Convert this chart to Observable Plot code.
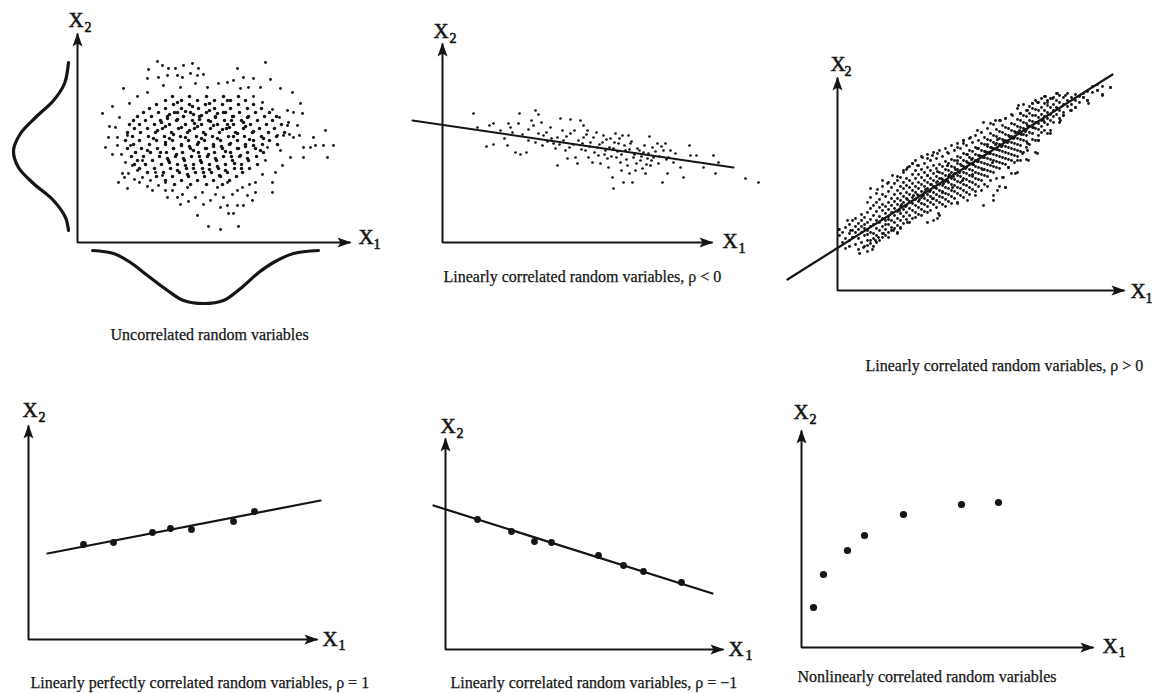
<!DOCTYPE html>
<html><head><meta charset="utf-8">
<script src="https://cdn.jsdelivr.net/npm/d3@7"></script>
<script src="https://cdn.jsdelivr.net/npm/@observablehq/plot@0.6"></script>
<style>
html,body{margin:0;padding:0;background:#fff;}
#fig{position:relative;width:1152px;height:693px;overflow:hidden;background:#fff;}
#fig svg{position:absolute;overflow:visible;background:transparent;}
</style></head><body><div id="fig"></div>
<script>
// ---------- DATA (arbitrary units, origin at each panel's axis corner) ----------
const captions = [
  "Uncorrelated random variables",
  "Linearly correlated random variables, \u03c1 < 0",
  "Linearly correlated random variables, \u03c1 > 0",
  "Linearly perfectly correlated random variables, \u03c1 = 1",
  "Linearly correlated random variables, \u03c1 = \u22121",
  "Nonlinearly correlated random variables"
];

// Panel 1: marginal density curves
const leftCurve1 = [[-9,180],[-13,159],[-24,142],[-42,125],[-57,109],[-64,92],[-59,75],[-44,59],[-24,42],[-12,25],[-9,12]];
const bottomCurve1 = [[15,-8],[36,-11],[53,-20],[70,-33],[90,-48],[106,-58],[126,-61],[146,-58],[163,-46],[180,-31],[196,-20],[216,-11],[241,-8]];
// Panel 1: scattered outer points
const cloud1Outer = [[80,181],[85,177],[71,173],[91,174],[98,174],[106,177],[115,179],[121,174],[160,174],[188,180],
[70,164],[81,165],[90,167],[100,167],[105,165],[113,169],[120,167],[126,168],[166,165],[176,164],[193,163],
[46,154],[141,159],[150,160],[156,162],[183,155],[171,155],[163,154],[203,154],[86,157],[103,155],[118,159],[130,155],
[215,150],[223,139],[225,129],[216,130],[210,132],[248,112],[236,105],[238,97],[246,97],[256,97],[233,95],[226,95],[250,85],[226,85],[213,85],[205,77],[195,60],[195,50],[178,60],[178,50],[170,47],[160,37],[166,37],[150,37],[143,35],[151,29],[156,29],[120,27],[131,16],[143,13],[161,16],[103,38],[111,41],[118,45],[90,45],[100,45],[133,42],[146,45],[50,54],[41,60],[45,69],[51,69],[55,77],[60,72],[65,65],[73,62],[81,57],[75,52],[85,67],[32,116],[31,105],[40,105],[40,97],[50,107],[53,97],[58,90],[65,82],[220,117],[210,117],[200,107],[190,95],[188,82],[206,107],[203,92],[216,105],[212,108],[222,107],[35,136],[25,129],[52,139],
[60,146],[70,150],[176,146],[185,140],[195,133],[202,125],[211,120],[42,125],[38,115],[44,88],[48,80],[198,70],[185,68],[172,58],[160,52],[88,52],[110,55],[125,50],[140,55],[150,60],[35,88],[28,95],
[62,60],[70,56],[57,63],[47,65],[78,70],[68,78],[88,60],[95,52],[105,48],[126,38],[138,48],[155,48],[165,55],[175,42]];
// Panel 1: dense core, rows of [x2, [x1 values]]
const cloud1Rows = [
 [146,[95,112,129,146,161]],
 [142,[88,104,120,137,153,168]],
 [138,[79,96,112,128,145,161,176]],
 [134,[72,88,104,121,137,153,170,184]],
 [130,[66,81,97,113,129,146,162,178,192]],
 [126,[60,74,90,106,122,138,155,171,187,199]],
 [122,[56,68,83,99,115,131,147,164,180,195]],
 [118,[52,62,77,92,108,124,140,156,173,189,204]],
 [114,[57,70,85,101,117,133,149,166,182,197]],
 [110,[50,63,78,94,110,126,142,158,175,191,207]],
 [106,[55,71,87,103,119,135,151,167,184,199]],
 [102,[48,62,79,95,111,127,143,160,176,192]],
 [98,[56,72,88,104,120,136,152,168,185,200]],
 [94,[50,64,80,96,113,129,145,161,178]],
 [90,[58,73,89,105,121,137,153,170,186]],
 [86,[54,66,82,98,114,130,146,162,179]],
 [82,[60,75,91,107,123,139,155,171]],
 [78,[57,68,84,100,116,132,148,164,180]],
 [74,[62,77,93,109,125,141,157,172]],
 [70,[70,86,102,118,134,150,165]],
 [66,[79,95,111,127,143,159]],
 [62,[88,104,120,136,152]],
 [58,[97,113,129,145]]
];
// Panel 1: extra points in the darkest centre of the cloud
const cloud1Inner = [[92,128],[108,131],[124,127],[140,129],[156,126],[84,120],[100,123],[117,119],[133,121],[150,118],[166,120],[80,112],[96,108],[112,112],[128,108],[145,113],[160,109],[176,111],[88,100],[104,97],[121,100],[136,96],[153,99],[168,96],[83,90],[99,88],[116,92],[131,88],[148,91],[163,87],[92,80],[108,77],[124,80],[140,76],[157,79],[76,104],[186,104],[70,92],[183,92],[115,136],[132,139],[100,140],[150,142],[110,68],[126,70],[142,67],
[100,130],[116,128],[132,132],[148,130],[90,124],[106,126],[122,123],[138,125],[154,122],[170,125],[88,116],[104,115],[120,116],[136,117],[152,115],[168,116],[92,104],[108,105],[124,104],[140,104],[156,106],[172,103],[96,94],[112,96],[128,94],[144,96],[160,94],[176,97],[90,84],[106,84],[122,86],[138,84],[154,86],[170,84],[100,72],[116,74],[132,73],[148,72],[164,74]];

// Panel 2: negative linear correlation
const fit2 = [[-30,122],[291,75]];
const cloud2 = [[31,129],[35,115],[47,117],[51,119],[44,96],[51,98],[65,97],[66,119],[68,115],[76,119],[77,129],[73,90],[78,88],[84,90],[86,113],[89,122],[93,132],[96,128],[91,117],[93,100],[100,97],[101,107],[105,101],[108,115],[111,99],[113,94],[115,105],[115,77],[118,124],[120,112],[121,102],[123,92],[125,84],[128,123],[128,109],[131,98],[133,85],[135,79],[138,122],[140,99],[141,117],[141,105],[143,92],[145,112],[146,85],[148,100],[150,80],[151,105],[155,95],[156,87],[158,79],[160,100],[161,107],[163,92],[165,84],[166,75],[168,104],[170,65],[171,54],[171,94],[173,109],[174,85],[176,99],[178,80],[179,72],[180,107],[181,60],[183,92],[185,77],[186,107],[187,69],[188,99],[190,60],[191,85],[193,72],[195,94],[198,82],[200,74],[201,90],[203,69],[205,84],[207,106],[208,77],[210,95],[211,85],[215,99],[216,79],[220,60],[221,92],[223,99],[225,69],[226,85],[231,80],[233,89],[238,75],[241,65],[247,97],[248,87],[254,87],[261,75],[271,87],[273,69],[276,80],[303,64],[316,60],
[104,110],[109,104],[117,98],[124,106],[127,95],[132,112],[136,102],[139,93],[144,108],[147,96],[152,90],[154,110],[157,98],[162,88],[164,103],[167,95],[169,86],[172,100],[175,91],[177,104],[179,88],[182,97],[184,83],[187,93],[189,101],[192,88],[194,79],[197,92],[199,86],[202,97],[204,78],[206,89],[209,82],[213,91],[217,86],[219,96],[224,83],[228,92],[80,108],[86,102],[96,109],[70,110],[58,112],[62,104],[99,120]];

// Panel 3: positive linear correlation
const fit3 = [[-50,11],[275,216]];
const cloud3Cols = [
 [2,[55,61]],[5,[48,58]],[8,[42,52,63]],
 [12,[44,50,57,66]],[15,[53,60,70]],
 [18,[46,58,64,72]],[21,[41,52,61,67]],
 [24,[48,58,64,70,76]],[27,[44,55,62,66,73]],
 [30,[39,50,56,60,68,78,88]],[33,[47,58,64,71,82,93]],
 [36,[44,52,57,66,75,85]],[39,[48,55,62,70,79,88,97]],
 [42,[50,60,68,74,83,91]],[45,[53,57,64,72,80,86,96,104]],
 [48,[55,61,66,70,77,84,94]],[51,[58,66,71,74,81,88,99,108]],
 [54,[60,63,70,78,85,92,103]],[57,[62,68,75,82,89,96,107]],
 [60,[58,65,72,79,86,92,100,110]],[63,[62,70,77,84,90,97,104,113]],
 [66,[67,74,81,88,94,102,108,118]],[69,[71,78,85,92,98,105,112,121]],
 [72,[68,75,82,89,96,103,110,124]],[75,[72,80,87,93,100,107,116,127]],
 [78,[73,78,85,91,98,104,112,120,130]],[81,[76,83,89,95,102,108,116,125]],
 [84,[75,81,87,93,99,106,113,121,134]],[87,[79,86,92,98,104,110,118,127]],
 [90,[78,84,90,96,102,108,115,123,136]],[93,[80,88,94,100,106,112,120,130]],
 [96,[70,86,92,98,104,110,117,125,138]],[99,[83,90,96,102,108,114,122,132]],
 [102,[75,88,94,100,106,112,118,126,140]],[105,[86,93,99,105,111,117,124,134]],
 [108,[84,91,97,103,109,115,121,129,142]],[111,[89,96,102,108,114,120,127,137]],
 [114,[87,94,100,106,112,118,124,131,145]],[117,[92,99,105,111,117,123,130,140]],
 [120,[88,97,103,109,115,121,127,134,147]],[123,[95,102,108,114,120,126,133,142]],
 [126,[93,100,106,112,118,124,130,137,150]],[129,[98,105,111,117,123,129,136,145]],
 [132,[96,103,109,115,121,127,133,140,152]],[135,[101,108,114,120,126,132,139,148]],
 [138,[99,106,112,118,124,130,136,143,155]],[141,[104,111,117,123,129,135,142,150]],
 [144,[100,110,116,122,128,134,140,147,158]],[147,[106,115,121,127,133,139,146,153]],
 [150,[104,114,120,126,132,138,144,151,162]],[153,[110,119,125,131,137,143,150,157]],
 [156,[95,118,124,130,136,142,148,155,166]],[159,[112,123,129,135,141,147,154,161]],
 [162,[104,122,128,134,140,146,152,159,170]],[165,[113,127,133,139,145,151,158,165]],
 [168,[103,126,132,138,144,150,156,163,172]],[171,[123,131,137,143,149,155,162]],
 [174,[117,130,136,142,148,154,160,167,176]],[177,[128,135,141,147,153,159,166]],
 [180,[118,134,140,146,152,158,164,171,182]],[183,[130,139,145,151,157,163,170,177]],
 [186,[138,150,156,162,168,175,186]],[189,[131,143,149,155,161,167,174,180]],
 [192,[146,158,164,170,177,184]],[195,[151,157,163,169,175,182,187]],
 [198,[138,150,162,168,175,181,190]],[201,[150,155,161,167,173,180,188]],
 [204,[158,164,170,176,183,192]],[207,[160,168,174,180,187,194]],
 [210,[157,166,172,178,185,190]],[213,[160,170,176,183,192]],
 [216,[168,174,180,186,193]],[219,[176,183,190,197]],
 [222,[168,172,180,188,195]],[226,[175,178,186,193]],
 [230,[184,190,197]],[234,[180,186,193]],
 [238,[183,190,196]],[242,[188,194]],
 [246,[193,197]],[250,[190,199]],
 [255,[198,204]],[260,[200,206]],[265,[196,204]],[273,[203]]
];
const cloud3Outer = [[273,203],[260,200],[265,195],[250,190],[251,187],[246,193],[238,183],[233,180],[228,195],[220,197],[215,192],[208,194],[210,188],[200,188],[195,187],[190,180],[181,185],[183,177],[175,175],[168,172],[163,170],[158,170],[153,167],[146,168],[140,160],[133,153],[126,150],
[213,157],[201,150],[190,147],[190,140],[196,163],[206,170],[223,170],[226,175],[200,137],[191,130],[185,137],[180,130],[178,117],[171,123],[166,113],[168,103],[160,100],[156,90],[146,85],[138,95],[130,90],[120,87],
[1,61],[10,70],[13,60],[16,53],[22,37],[26,43],[30,45],[33,50],[35,41],[38,50],[41,53],[46,57],[51,53],[56,60],[60,57],[63,63],[70,68],[90,68],[100,72],[101,77],
[33,102],[40,101],[45,110],[50,107],[55,115],[60,114],[66,120],[70,123],[75,127],[80,125],[85,133],[90,132],[95,135],[100,137],[110,138],[120,143],[126,147]];
// Panel 3: extra points packed close to the regression line (darkest band)
const cloud3Core = [[62,80],[64,86],[68,84],[70,91],[74,88],[76,95],[80,96],[82,91],[86,95],[88,101],[92,99],[94,106],[98,103],[100,109],[104,112],[106,107],[110,110],[112,116],[116,114],[118,121],[122,118],[124,125],[128,122],[130,128],[134,131],[136,126],[140,129],[142,135],[146,133],[148,139],[152,137],[154,143],[158,146],[160,141],[164,144],[166,150],[170,148],[172,154],[176,152],[178,158],[182,160],[184,156],[188,159],[190,165],
[90,115],[100,119],[110,125],[120,130],[130,136],[140,142],[150,146],[160,151],[95,92],[105,98],[115,103],[125,110],[135,116],[145,121],[155,128]];

// Panel 4: perfect positive correlation
const fit4 = [[19,86],[292,139]];
const points4 = [[55,95],[85,97],[124,107],[142,111],[163,110],[205,118],[226,128]];
// Panel 5: perfect negative correlation
const fit5 = [[-12,144],[267,56]];
const points5 = [[32,130],[66,118],[89,108],[106,107],[153,94],[178,84],[198,78],[236,67]];
// Panel 6: nonlinear correlation
const points6 = [[12,40],[22,73],[46,97],[63,112],[102,133],[160,143],[197,145]];

// ---------- DRAWING ----------
const INK = "#151515";
const FONT = "'Liberation Serif','Times New Roman',Times,serif";
const fig = document.getElementById("fig");
const arrowHead = {draw(ctx){ctx.moveTo(0,-1);ctx.lineTo(5,13);ctx.lineTo(0,10);ctx.lineTo(-5,13);ctx.closePath();}};
const flatRows = rows => rows.flatMap(([y, xs]) => xs.map(x => [x, y]));
const flatCols = cols => cols.flatMap(([x, ys]) => ys.map(y => [x, y]));

function axisMarks(tipX, tipY) {
  return [
    Plot.line([[0, tipY], [0, 0], [tipX, 0]], {stroke: INK, strokeWidth: 2, strokeLinejoin: "miter", strokeLinecap: "butt"}),
    Plot.dot([[0, tipY]], {symbol: arrowHead, fill: INK, stroke: "none", r: 5}),
    Plot.dot([[tipX, 0]], {symbol: arrowHead, fill: INK, stroke: "none", r: 5, rotate: 90})
  ];
}
function labelMarks(L) {
  const common = {text: d => d, fill: INK, stroke: INK, strokeWidth: 0.6, fontFamily: FONT, textAnchor: "start", lineAnchor: "bottom"};
  return [
    Plot.text(["X"], {...common, x: L.x1[0], y: L.x1[1], fontSize: 21}),
    Plot.text(["1"], {...common, x: L.x1[2], y: L.x1[3], fontSize: 14}),
    Plot.text(["X"], {...common, x: L.x2[0], y: L.x2[1], fontSize: 21}),
    Plot.text(["2"], {...common, x: L.x2[2], y: L.x2[3], fontSize: 14})
  ];
}
function captionMark(text, pos) {
  return Plot.text([text], {x: pos[0], y: pos[1], text: d => d, fill: INK, stroke: INK, strokeWidth: 0.25, fontFamily: FONT, fontSize: 16, textAnchor: "start", lineAnchor: "bottom"});
}
function panel(p, marks) {
  const chart = Plot.plot({
    width: p.w, height: p.h, margin: 0,
    style: {background: "transparent", overflow: "visible"},
    x: {domain: [p.left - p.ox, p.left + p.w - p.ox], range: [0, p.w], axis: null},
    y: {domain: [p.oy - (p.top + p.h), p.oy - p.top], range: [p.h, 0], axis: null},
    marks: [...marks, ...axisMarks(p.tipX, p.tipY), ...labelMarks(p.labels), captionMark(p.caption, p.capPos)]
  });
  chart.style.left = p.left + "px";
  chart.style.top = p.top + "px";
  fig.append(chart);
}

// Panel 1
panel({left: 0, top: 0, w: 390, h: 350, ox: 77, oy: 242, tipX: 273, tipY: 209,
  labels: {x1: [281, -1, 296, -6], x2: [-9, 216, 7, 211]}, caption: captions[0], capPos: [33, -97]}, [
  Plot.line(leftCurve1, {curve: "catmull-rom", stroke: INK, strokeWidth: 3.2}),
  Plot.line(bottomCurve1, {curve: "catmull-rom", stroke: INK, strokeWidth: 3.2}),
  Plot.dot(cloud1Outer, {r: 1.45, fill: INK, stroke: "none"}),
  Plot.dot(flatRows(cloud1Rows), {r: 1.75, fill: INK, stroke: "none"}),
  Plot.dot(cloud1Inner, {r: 1.75, fill: INK, stroke: "none"})
]);
// Panel 2
panel({left: 390, top: 0, w: 390, h: 300, ox: 442, oy: 242, tipX: 270, tipY: 199,
  labels: {x1: [280, -5, 296, -10], x2: [-9, 205, 7, 200]}, caption: captions[1], capPos: [1, -39]}, [
  Plot.dot(cloud2, {r: 1.35, fill: INK, stroke: "none"}),
  Plot.line(fit2, {stroke: INK, strokeWidth: 2})
]);
// Panel 3
panel({left: 780, top: 0, w: 372, h: 380, ox: 837, oy: 290, tipX: 287, tipY: 213,
  labels: {x1: [293, -7, 308, -12], x2: [-7, 220, 7, 215]}, caption: captions[2], capPos: [28, -80]}, [
  Plot.dot(flatCols(cloud3Cols), {r: 1.4, fill: INK, stroke: "none"}),
  Plot.dot(cloud3Outer, {r: 1.4, fill: INK, stroke: "none"}),
  Plot.dot(cloud3Core, {r: 1.5, fill: INK, stroke: "none"}),
  Plot.line(fit3, {stroke: INK, strokeWidth: 2.2})
]);
// Panel 4
panel({left: 0, top: 380, w: 420, h: 313, ox: 28, oy: 639, tipX: 289, tipY: 214,
  labels: {x1: [294, -6, 310, -10], x2: [-6, 223, 10, 218]}, caption: captions[3], capPos: [2, -48]}, [
  Plot.line(fit4, {stroke: INK, strokeWidth: 2.2}),
  Plot.dot(points4, {r: 3.4, fill: INK, stroke: "none"})
]);
// Panel 5
panel({left: 420, top: 380, w: 360, h: 313, ox: 445, oy: 649, tipX: 278, tipY: 211,
  labels: {x1: [283, -6, 300, -10], x2: [-5, 217, 11, 212]}, caption: captions[4], capPos: [5, -38]}, [
  Plot.line(fit5, {stroke: INK, strokeWidth: 2.2}),
  Plot.dot(points5, {r: 3.4, fill: INK, stroke: "none"})
]);
// Panel 6
panel({left: 780, top: 380, w: 372, h: 313, ox: 801, oy: 647, tipX: 292, tipY: 217,
  labels: {x1: [301, -5, 317, -9], x2: [-8, 229, 8, 224]}, caption: captions[5], capPos: [-4, -34]}, [
  Plot.dot(points6, {r: 3.6, fill: INK, stroke: "none"})
]);
</script>
</body></html>
